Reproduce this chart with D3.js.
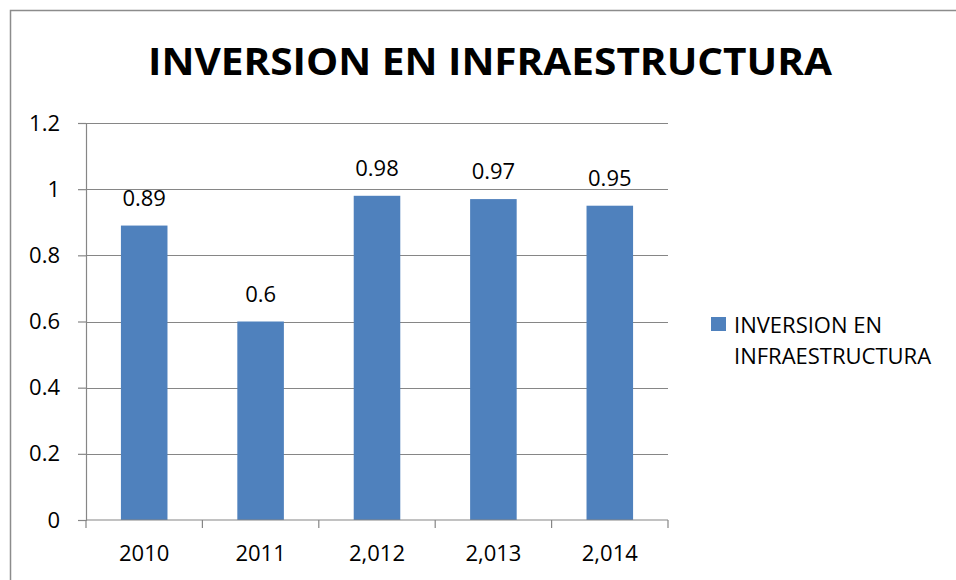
<!DOCTYPE html>
<html>
<head>
<meta charset="utf-8">
<script src="https://cdn.jsdelivr.net/npm/d3@7"></script>
<style>
  body { margin: 0; background: #fff; }
  text { font-family: "Open Sans", "Noto Sans", sans-serif; fill: #000; }
</style>
</head>
<body>
<div id="chart"></div>
<script>
const categories = ["2010", "2011", "2,012", "2,013", "2,014"];
const values = [0.89, 0.6, 0.98, 0.97, 0.95];
const valueLabels = ["0.89", "0.6", "0.98", "0.97", "0.95"];
const yTicks = [0, 0.2, 0.4, 0.6, 0.8, 1, 1.2];
const seriesName = "INVERSION EN INFRAESTRUCTURA";

const W = 956, H = 580;
const margin = { top: 123, right: 288, bottom: 60, left: 86 };
const barColor = "#4f81bd";
const labelSize = 22;

const svg = d3.select("#chart").append("svg")
  .attr("width", W).attr("height", H);

// chart frame
svg.append("rect")
  .attr("x", 10.5).attr("y", 10.5)
  .attr("width", W + 20).attr("height", H + 20)
  .attr("fill", "none").attr("stroke", "#8c8c8c").attr("stroke-width", 1.5);

// title
svg.append("text")
  .attr("x", 490).attr("y", 75)
  .attr("text-anchor", "middle")
  .attr("font-size", 38).attr("font-weight", "bold")
  .attr("textLength", 684).attr("lengthAdjust", "spacingAndGlyphs")
  .text(seriesName);

const x = d3.scaleBand()
  .domain(categories)
  .range([margin.left, W - margin.right])
  .paddingInner(0.6).paddingOuter(0.3);

const y = d3.scaleLinear()
  .domain([0, 1.2])
  .range([H - margin.bottom, margin.top]);

// gridlines
svg.append("g")
  .selectAll("line")
  .data(yTicks.filter(d => d > 0))
  .join("line")
  .attr("x1", margin.left).attr("x2", W - margin.right)
  .attr("y1", d => Math.round(y(d)) + 0.5).attr("y2", d => Math.round(y(d)) + 0.5)
  .attr("stroke", "#868686").attr("stroke-width", 1.2);

// bars
svg.append("g")
  .selectAll("rect")
  .data(values)
  .join("rect")
  .attr("x", (d, i) => x(categories[i]))
  .attr("y", d => y(d))
  .attr("width", x.bandwidth())
  .attr("height", d => y(0) - y(d))
  .attr("fill", barColor);

// value labels
svg.append("g")
  .selectAll("text")
  .data(values)
  .join("text")
  .attr("x", (d, i) => x(categories[i]) + x.bandwidth() / 2)
  .attr("y", d => y(d) - 20)
  .attr("text-anchor", "middle")
  .attr("font-size", labelSize)
  .text((d, i) => valueLabels[i]);

// y axis
const yAxis = svg.append("g")
  .attr("transform", `translate(${margin.left},0)`)
  .call(d3.axisLeft(y).tickValues(yTicks).tickFormat(d3.format("")).tickSize(8).tickPadding(18));
yAxis.select(".domain").attr("stroke", "#868686").attr("stroke-width", 1.2);
yAxis.selectAll(".tick line").attr("stroke", "#868686").attr("stroke-width", 1.2);
yAxis.selectAll(".tick text").attr("font-size", labelSize).attr("font-family", "Open Sans").attr("fill", "#000");

// x axis with ticks between categories
const xAxisG = svg.append("g").attr("transform", `translate(0,${y(0)})`);
xAxisG.append("line")
  .attr("x1", margin.left).attr("x2", W - margin.right)
  .attr("stroke", "#868686").attr("stroke-width", 1.2);
const edges = d3.range(categories.length + 1).map(i => margin.left + i * (W - margin.right - margin.left) / categories.length);
xAxisG.selectAll("line.tick")
  .data(edges)
  .join("line")
  .attr("class", "tick")
  .attr("x1", d => d).attr("x2", d => d)
  .attr("y1", 0).attr("y2", 8)
  .attr("stroke", "#868686").attr("stroke-width", 1.2);
xAxisG.selectAll("text")
  .data(categories)
  .join("text")
  .attr("x", d => x(d) + x.bandwidth() / 2)
  .attr("y", 41)
  .attr("text-anchor", "middle")
  .attr("font-size", labelSize)
  .text(d => d);

// legend
const legend = svg.append("g").attr("transform", "translate(711,317)");
legend.append("rect").attr("width", 15).attr("height", 14).attr("fill", barColor);
legend.append("text").attr("x", 23).attr("y", 16).attr("font-size", labelSize).text("INVERSION EN");
legend.append("text").attr("x", 23).attr("y", 47).attr("font-size", labelSize).text("INFRAESTRUCTURA");
</script>
</body>
</html>
